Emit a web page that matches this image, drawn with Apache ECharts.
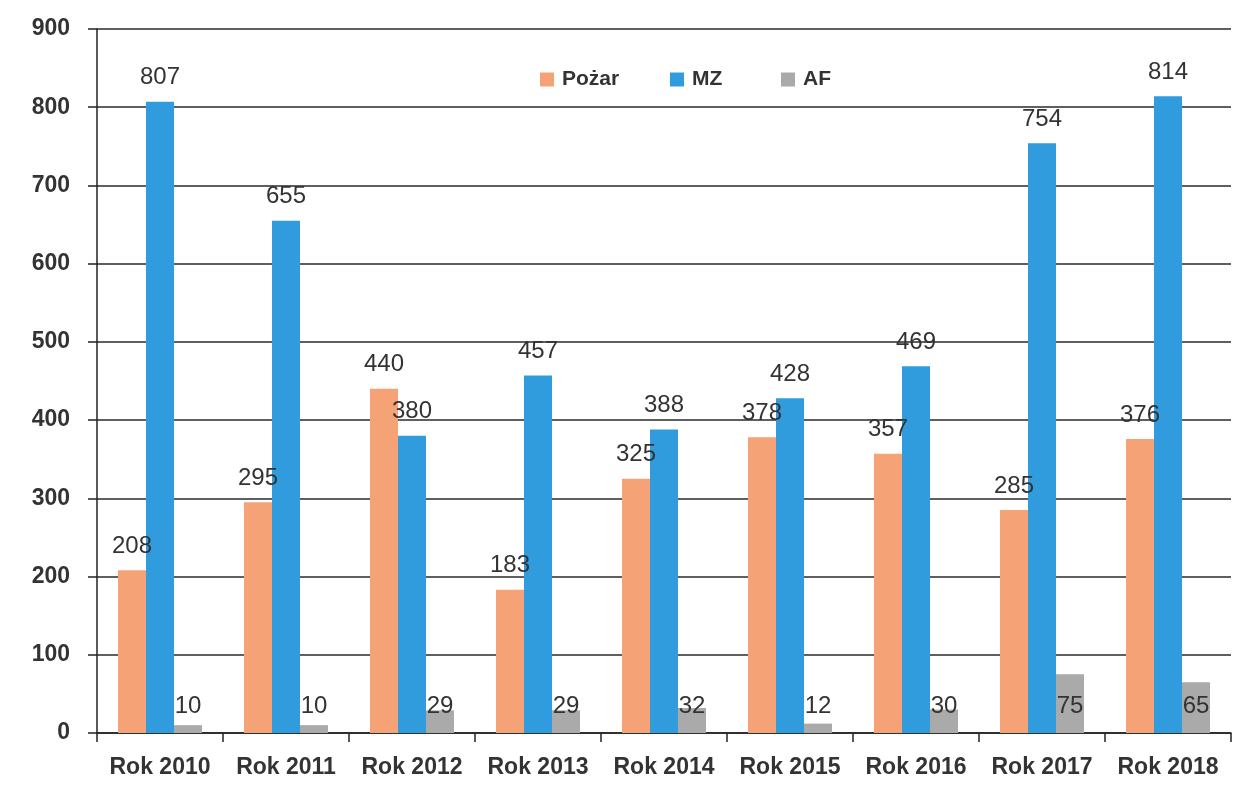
<!DOCTYPE html>
<html>
<head>
<meta charset="utf-8">
<script src="https://cdn.jsdelivr.net/npm/echarts@6/dist/echarts.min.js"></script>
<style>html,body{margin:0;padding:0;background:#fff;}#c{width:1233px;height:809px;}</style>
</head>
<body>
<div id="c"></div>
<script>
const categories = ['Rok 2010','Rok 2011','Rok 2012','Rok 2013','Rok 2014','Rok 2015','Rok 2016','Rok 2017','Rok 2018'];
const pozar = [208, 295, 440, 183, 325, 378, 357, 285, 376];
const mz = [807, 655, 380, 457, 388, 428, 469, 754, 814];
const af = [10, 10, 29, 29, 32, 12, 30, 75, 65];
const seriesNames = ['Pożar', 'MZ', 'AF'];

const chart = echarts.init(document.getElementById('c'));
const font = 'Liberation Sans';
const labelStyle = {show: true, position: 'top', distance: 12, fontFamily: font, fontSize: 24, color: '#333'};
const legendLefts = [535, 665, 776];
chart.setOption({
  animation: false,
  backgroundColor: '#fff',
  textStyle: {fontFamily: font},
  legend: seriesNames.map((n, i) => ({
    data: [n],
    left: legendLefts[i], top: 64,
    itemWidth: 14, itemHeight: 14,
    icon: 'rect',
    textStyle: {fontFamily: font, fontSize: 21, fontWeight: 'bold', color: '#333', padding: [0,0,0,3]}
  })),
  grid: {left: 97, right: 2, top: 29, bottom: 76, containLabel: false},
  xAxis: {
    type: 'category', data: categories,
    axisLine: {lineStyle: {color: '#222', width: 1.5}},
    axisTick: {show: true, interval: 0, length: 9, lineStyle: {color: '#222', width: 1.5}},
    axisLabel: {interval: 0, hideOverlap: false, margin: 23, fontFamily: font, fontSize: 23, fontWeight: 'bold', color: '#333'}
  },
  yAxis: {
    type: 'value', min: 0, max: 900, interval: 100,
    axisLine: {show: true, lineStyle: {color: '#222', width: 1.5}},
    axisTick: {show: true, length: 9, lineStyle: {color: '#222', width: 1.5}},
    splitLine: {lineStyle: {color: '#2a2a2a', width: 1.5}},
    axisLabel: {margin: 27, fontFamily: font, fontSize: 23, fontWeight: 'bold', color: '#333'}
  },
  series: [
    {name: seriesNames[0], type: 'bar', data: pozar, barWidth: 28, barGap: '0%', itemStyle: {color: '#F5A277'}, label: labelStyle},
    {name: seriesNames[1], type: 'bar', data: mz, barWidth: 28, barGap: '0%', itemStyle: {color: '#319CDD'}, label: labelStyle},
    {name: seriesNames[2], type: 'bar', data: af, barWidth: 28, barGap: '0%', itemStyle: {color: '#AAAAAA'},
     label: Object.assign({}, labelStyle, {position: 'insideBottom', distance: 15})}
  ]
});
</script>
</body>
</html>
